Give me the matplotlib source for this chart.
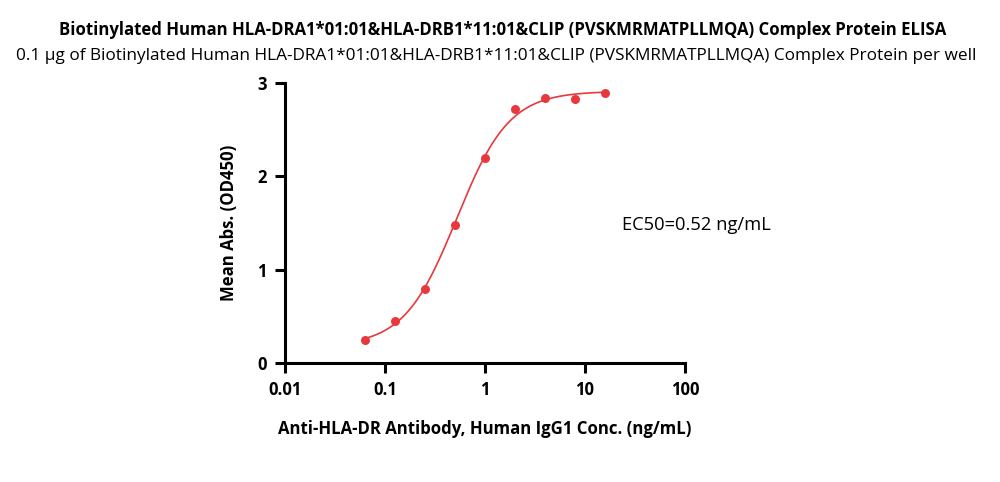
import numpy as np
import matplotlib
matplotlib.use("Agg")
import matplotlib.pyplot as plt

plt.rcParams['font.family'] = ['Open Sans', 'DejaVu Sans']

conc = [0.0625, 0.125, 0.25, 0.5, 1, 2, 4, 8, 16]
od450 = [0.25, 0.45, 0.79, 1.48, 2.20, 2.72, 2.84, 2.83, 2.89]
fit_bottom, fit_top, fit_ec50, fit_hill = 0.18, 2.91, 0.52, 1.65
xticks = [0.01, 0.1, 1, 10, 100]
xtick_labels = ['0.01', '0.1', '1', '10', '100']
yticks = [0, 1, 2, 3]

title1 = "Biotinylated Human HLA-DRA1*01:01&HLA-DRB1*11:01&CLIP (PVSKMRMATPLLMQA) Complex Protein ELISA"
title2 = "0.1 \u03bcg of Biotinylated Human HLA-DRA1*01:01&HLA-DRB1*11:01&CLIP (PVSKMRMATPLLMQA) Complex Protein per well"

red = '#e8383d'

fig = plt.figure(figsize=(10, 4.82), dpi=100)
ax = fig.add_axes([0.285, 0.247, 0.40, 0.581])

xs = np.logspace(np.log10(conc[0]), np.log10(conc[-1]), 300)
ys = fit_bottom + (fit_top - fit_bottom) / (1 + (fit_ec50 / xs) ** fit_hill)
ax.plot(xs, ys, color=red, lw=1.2, zorder=2)
ax.scatter(conc, od450, s=42, color=red, zorder=3, linewidths=0)

ax.set_xscale('log')
ax.set_xlim(0.01, 100)
ax.set_ylim(0, 3)
ax.set_xticks(xticks)
ax.set_xticklabels(xtick_labels)
ax.minorticks_off()
ax.set_yticks(yticks)
for s in ['top', 'right']:
    ax.spines[s].set_visible(False)
for s in ['left', 'bottom']:
    ax.spines[s].set_linewidth(2.2)
ax.tick_params(width=2.2, length=7, labelsize=12, pad=6)
for lab in ax.get_xticklabels() + ax.get_yticklabels():
    lab.set_fontweight('bold')
ax.set_xlabel('Anti-HLA-DR Antibody, Human IgG1 Conc. (ng/mL)', fontsize=12.1, fontweight='bold', labelpad=15)
ax.set_ylabel('Mean Abs. (OD450)', fontsize=12.1, fontweight='bold', labelpad=14)

ax.text(0.622, 1-225/482, 'EC50=0.52 ng/mL', transform=fig.transFigure, fontsize=13.2, va='center', ha='left')

fig.text(0.503, 1-30/482, title1, ha='center', va='center', fontsize=12.1, fontweight='bold')
fig.text(0.496, 1-56/482, title2, ha='center', va='center', fontsize=12.4)

fig.savefig('out.png', dpi=100)
